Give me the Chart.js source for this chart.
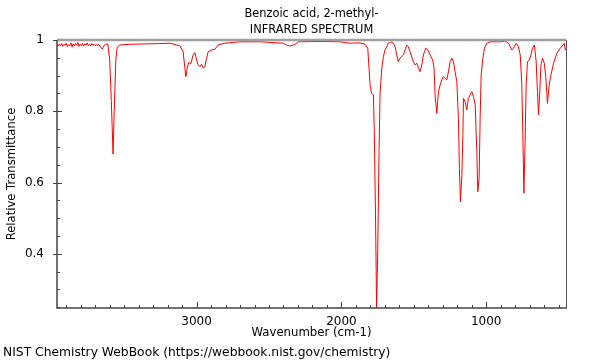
<!DOCTYPE html>
<html>
<head>
<meta charset="utf-8">
<script src="https://cdn.jsdelivr.net/npm/chart.js@4"></script>
<style>
html,body{margin:0;padding:0;background:#fff;}
canvas{display:block;}
</style>
</head>
<body>
<canvas id="c" width="600" height="360"></canvas>
<script>
const titleLines = ["Benzoic acid, 2-methyl-", "INFRARED SPECTRUM"];
const xAxisLabel = "Wavenumber (cm-1)";
const yAxisLabel = "Relative Transmittance";
const footerText = "NIST Chemistry WebBook (https://webbook.nist.gov/chemistry)";
const xTickValues = [1000, 2000, 3000];
const yTickValues = [0.4, 0.6, 0.8, 1];
const xRange = [449, 3964];
const yRange = [0.248, 1.0];

const wavenumbers = [
  3964, 3956, 3948, 3940, 3932, 3924, 3916, 3908, 3900, 3892, 3884, 3876, 3868, 3860, 3852, 3844,
  3836, 3828, 3820, 3812, 3804, 3796, 3788, 3780, 3772, 3764, 3756, 3748, 3740, 3732, 3724, 3716,
  3708, 3700, 3692, 3684, 3676, 3668, 3660, 3652, 3644, 3636, 3628, 3620, 3613,
  3600, 3589, 3577, 3569, 3558, 3548, 3531, 3462, 3358, 3254, 3184, 3138,
  3116, 3093, 3081, 3074, 3065, 3054, 3040, 3024, 3012, 3000, 2989, 2977, 2966, 2955, 2943, 2931,
  2920, 2897, 2874, 2851, 2805, 2701, 2562, 2402, 2378, 2355, 2320, 2298, 2148, 2010,
  1941, 1871, 1837, 1818, 1802, 1791, 1779, 1773, 1764, 1757, 1749, 1740, 1733, 1721, 1710,
  1699, 1687, 1676, 1652, 1641, 1629, 1618, 1607, 1595, 1572, 1560, 1549, 1538, 1526, 1503,
  1491, 1479, 1468, 1457, 1445, 1434, 1417, 1403, 1387, 1370, 1360, 1353, 1341, 1330, 1318,
  1307, 1296, 1284, 1272, 1261, 1249, 1237, 1226, 1215, 1203, 1192, 1185, 1178, 1168, 1161,
  1157, 1146, 1134, 1123, 1111, 1099, 1088, 1076, 1065, 1058, 1049, 1042, 1035, 1023, 1012,
  996, 973, 926, 904, 869, 846, 823, 812, 793, 777, 765, 754, 747, 740, 733, 724, 715, 703,
  691, 680, 667, 655, 646, 639, 629, 622, 611, 599, 588, 577, 565, 553, 535, 512, 489, 470,
  461, 454, 449
];
const transmittance = [
  0.987, 0.983, 0.989, 0.984, 0.990, 0.982, 0.988, 0.985, 0.991, 0.981, 0.987, 0.984, 0.992, 0.980, 0.989, 0.983,
  0.990, 0.985, 0.993, 0.982, 0.988, 0.984, 0.991, 0.983, 0.989, 0.986, 0.992, 0.984, 0.988, 0.983, 0.990, 0.985,
  0.988, 0.984, 0.987, 0.985, 0.988, 0.983, 0.978, 0.975, 0.980, 0.986, 0.988, 0.988, 0.989,
  0.944, 0.830, 0.680, 0.800, 0.944, 0.980, 0.986, 0.988, 0.989, 0.990, 0.991, 0.986,
  0.984, 0.967, 0.921, 0.897, 0.921, 0.937, 0.933, 0.958, 0.965, 0.944, 0.930, 0.925, 0.932, 0.922, 0.925, 0.949,
  0.967, 0.972, 0.974, 0.986, 0.991, 0.995, 0.995, 0.991, 0.986, 0.983, 0.988, 0.995, 0.996, 0.995,
  0.991, 0.992, 0.988, 0.977, 0.874, 0.850, 0.846, 0.748, 0.495, 0.250, 0.410, 0.690, 0.851, 0.921, 0.953,
  0.972, 0.981, 0.991, 0.995, 0.991, 0.981, 0.958, 0.939, 0.949, 0.958, 0.972, 0.986, 0.981, 0.967, 0.939,
  0.930, 0.935, 0.921, 0.911, 0.930, 0.958, 0.977, 0.972, 0.958, 0.944, 0.921, 0.846, 0.794, 0.855, 0.874,
  0.888, 0.897, 0.893, 0.888, 0.911, 0.939, 0.949, 0.939, 0.911, 0.883, 0.780, 0.640, 0.546, 0.621, 0.734,
  0.836, 0.827, 0.804, 0.836, 0.846, 0.855, 0.841, 0.818, 0.687, 0.574, 0.612, 0.780, 0.902, 0.949, 0.977,
  0.991, 0.995, 0.995, 0.995, 0.997, 0.991, 0.972, 0.977, 0.991, 0.981, 0.958, 0.874, 0.734, 0.570, 0.687, 0.874, 0.939, 0.944,
  0.958, 0.977, 0.986, 0.939, 0.855, 0.790, 0.865, 0.930, 0.949, 0.935, 0.893, 0.822, 0.874, 0.902, 0.935, 0.963, 0.977, 0.986,
  0.991, 0.972, 0.975
];

const FONT = "DejaVu Sans";
const points = wavenumbers.map((w, i) => ({x: w, y: transmittance[i]}));

const decor = {
  id: 'decor',
  afterDraw(chart) {
    const ctx = chart.ctx;
    const a = chart.chartArea;
    const xs = chart.scales.x, ys = chart.scales.y;
    ctx.save();
    ctx.strokeStyle = '#444';
    ctx.lineWidth = 1;
    for (let v = 500; v <= 3900; v += 100) {
      const px = Math.round(xs.getPixelForValue(v)) + 0.5;
      const major = v % 1000 === 0;
      ctx.beginPath();
      ctx.moveTo(px, a.bottom);
      ctx.lineTo(px, a.bottom - (major ? 6 : 3));
      ctx.stroke();
    }
    for (let k = 5; k <= 20; k++) {
      const v = k * 0.05;
      if (v < yRange[0]) continue;
      const py = Math.round(ys.getPixelForValue(v)) + 0.5;
      const major = k % 4 === 0;
      ctx.beginPath();
      ctx.moveTo(a.left - (major ? 4 : 0), py);
      ctx.lineTo(a.left + (major ? 5 : 3), py);
      ctx.stroke();
    }
    ctx.strokeStyle = '#a0a0a0';
    ctx.lineWidth = 2.5;
    ctx.beginPath();
    ctx.moveTo(a.left, a.top);
    ctx.lineTo(a.right, a.top);
    ctx.stroke();
    ctx.strokeStyle = '#555';
    ctx.lineWidth = 1;
    ctx.beginPath();
    ctx.moveTo(a.right + 0.5, a.top);
    ctx.lineTo(a.right + 0.5, a.bottom);
    ctx.stroke();
    ctx.strokeStyle = '#444';
    ctx.lineWidth = 1.5;
    ctx.beginPath();
    ctx.moveTo(a.left, a.top);
    ctx.lineTo(a.left, a.bottom);
    ctx.lineTo(a.right + 1, a.bottom);
    ctx.stroke();
    ctx.fillStyle = '#000';
    ctx.textAlign = 'center';
    ctx.textBaseline = 'middle';
    const cx = (a.left + a.right) / 2;
    ctx.font = '11.4px "' + FONT + '"';
    ctx.fillText(titleLines[0], cx, 14);
    ctx.fillText(titleLines[1], cx, 30);
    ctx.font = '11.7px "' + FONT + '"';
    ctx.fillText(xAxisLabel, cx, 332.5);
    ctx.font = '12.3px "' + FONT + '"';
    ctx.textAlign = 'left';
    ctx.fillText(footerText, 3, 353);
    ctx.font = '11.6px "' + FONT + '"';
    ctx.translate(11.5, (a.top + a.bottom) / 2);
    ctx.rotate(-Math.PI / 2);
    ctx.textAlign = 'center';
    ctx.fillText(yAxisLabel, 0, 0);
    ctx.restore();
  }
};

new Chart(document.getElementById('c'), {
  type: 'line',
  data: {
    datasets: [{
      data: points,
      borderColor: 'rgb(255,0,0)',
      borderWidth: 1,
      pointRadius: 0,
      tension: 0,
      fill: false
    }]
  },
  options: {
    responsive: false,
    animation: false,
    devicePixelRatio: 1,
    layout: {padding: {top: 40, right: 34, left: 0, bottom: 0}},
    plugins: {legend: {display: false}, tooltip: {enabled: false}, title: {display: false}},
    scales: {
      x: {
        type: 'linear',
        reverse: true,
        min: xRange[0],
        max: xRange[1],
        grid: {display: false},
        border: {display: false},
        afterBuildTicks: s => { s.ticks = xTickValues.map(v => ({value: v})); },
        afterFit: s => { s.height = 52; },
        ticks: {
          padding: -1,
          color: '#000',
          font: {family: FONT, size: 12},
          maxRotation: 0,
          callback: v => String(v)
        }
      },
      y: {
        type: 'linear',
        min: yRange[0],
        max: yRange[1],
        grid: {display: false},
        border: {display: false},
        afterBuildTicks: s => { s.ticks = yTickValues.map(v => ({value: v})); },
        afterFit: s => { s.width = 57; },
        ticks: {
          padding: 5,
          color: '#000',
          font: {family: FONT, size: 12},
          callback: v => (v === 1 ? '1' : v.toFixed(1))
        }
      }
    }
  },
  plugins: [decor]
});
</script>
</body>
</html>
